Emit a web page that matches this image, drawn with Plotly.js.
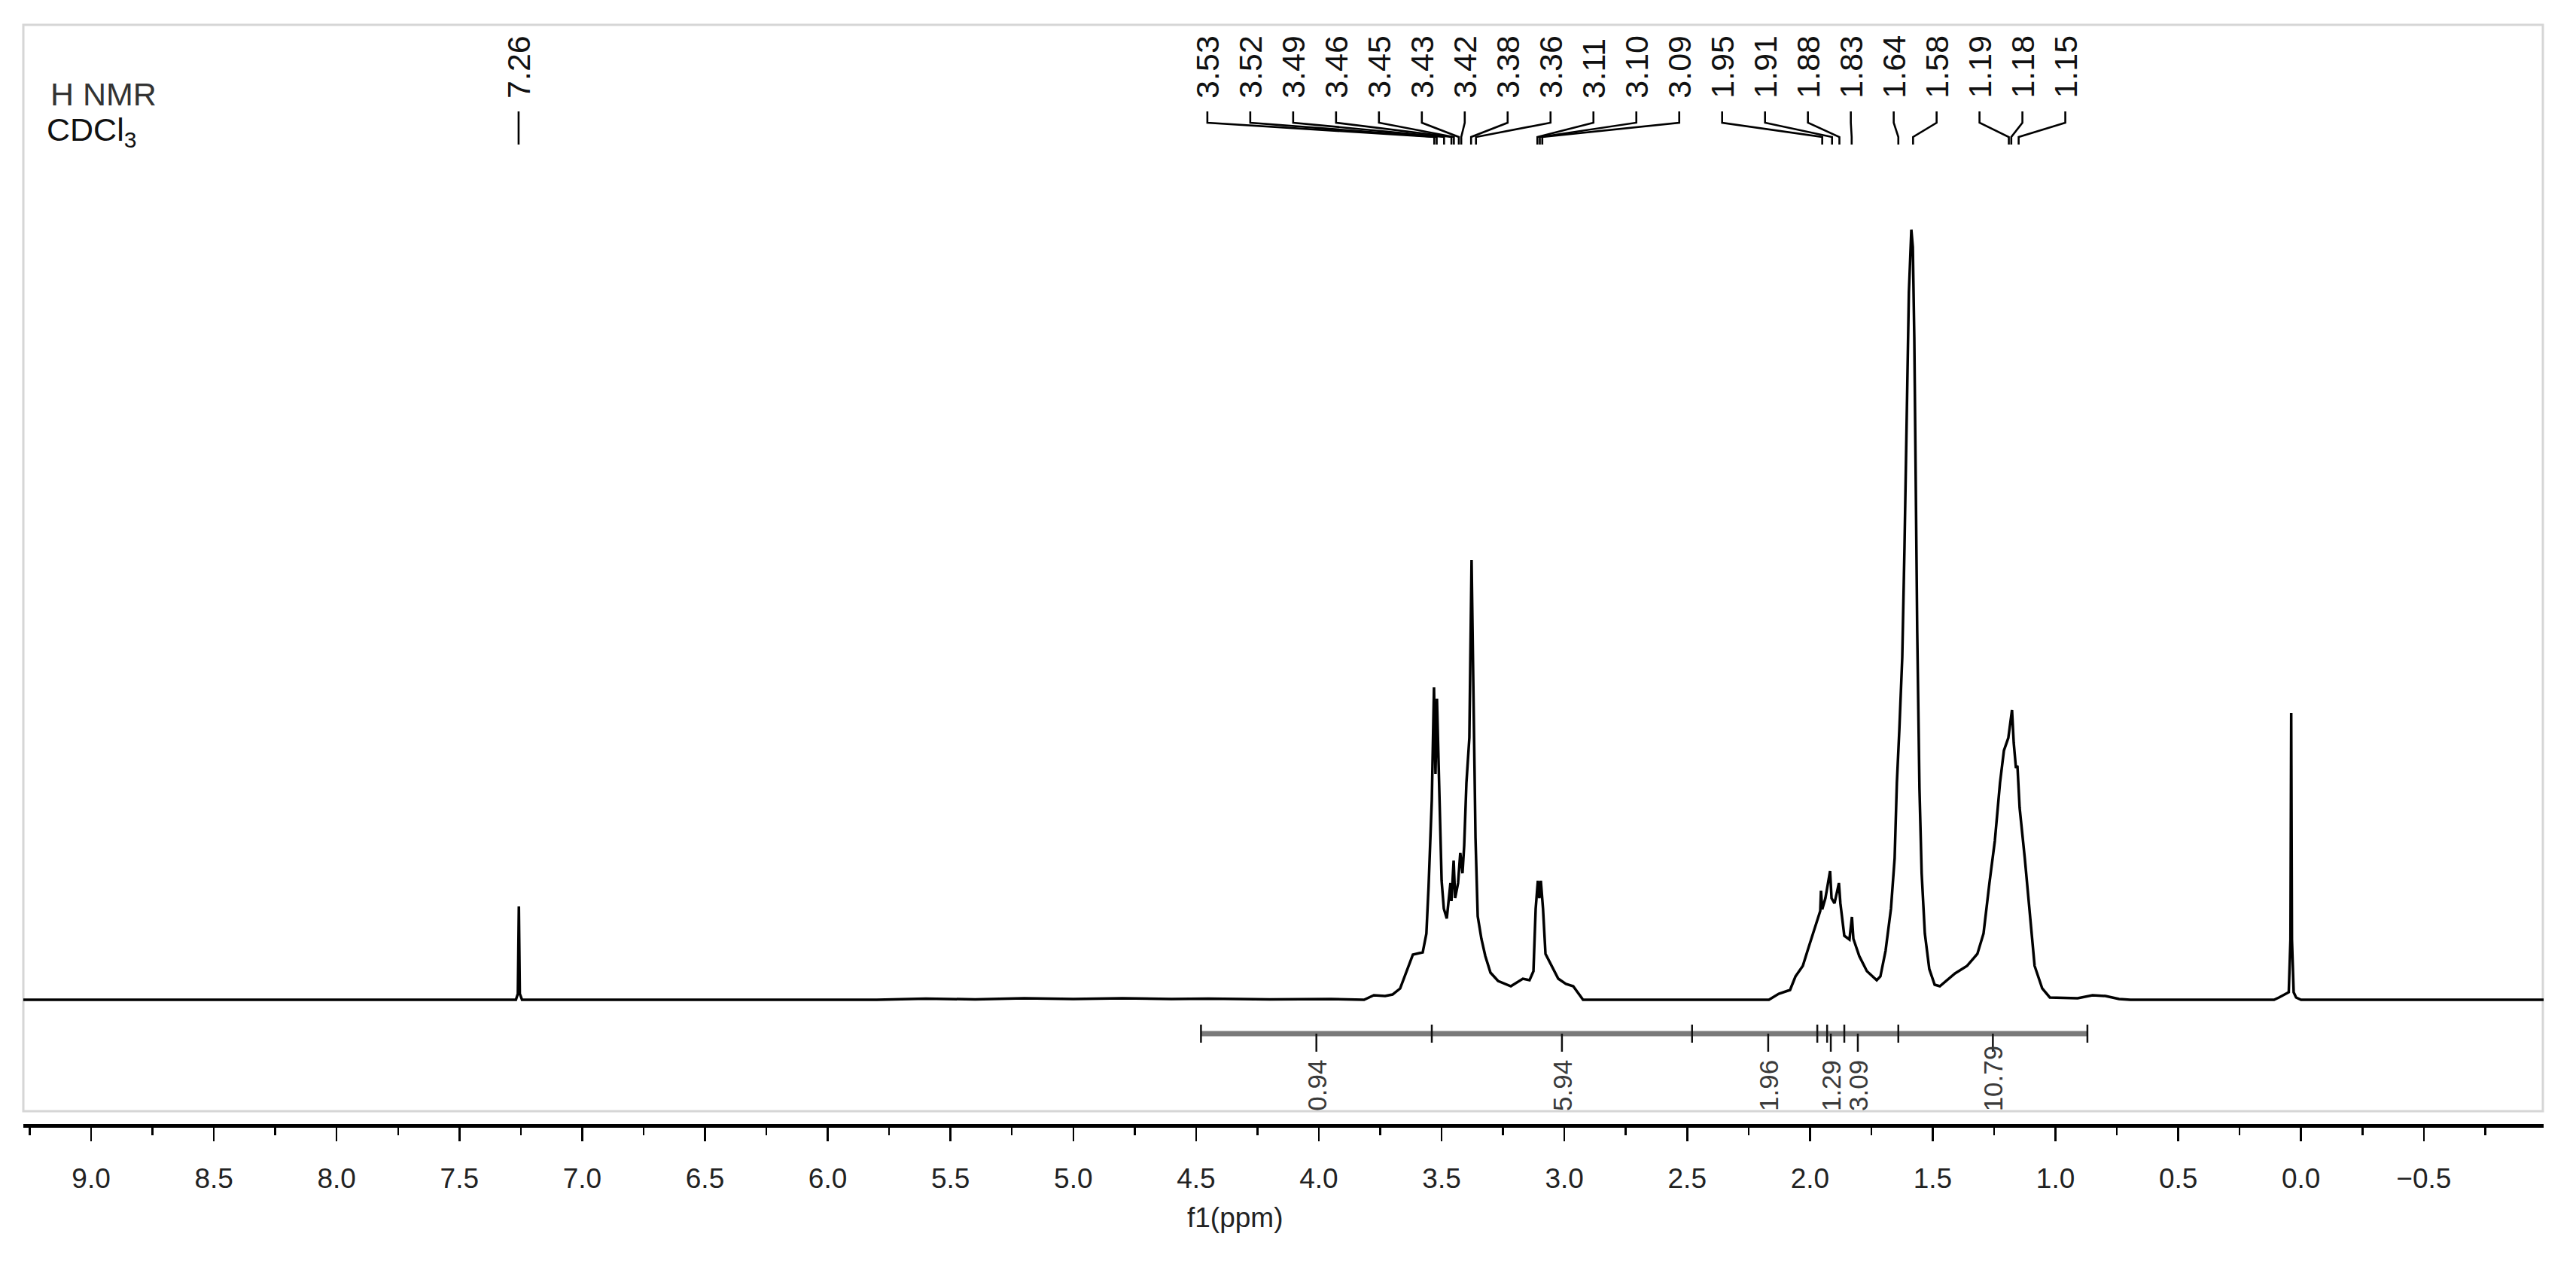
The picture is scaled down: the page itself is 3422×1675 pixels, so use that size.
<!DOCTYPE html>
<html>
<head>
<meta charset="utf-8">
<script src="https://cdn.plot.ly/plotly-3.0.1.min.js"></script>
<style>html,body{margin:0;padding:0;background:#fff;}#chart{width:3422px;height:1675px;}</style>
</head>
<body>
<div id="chart"></div>
<script>
// ---- spectrum (chemical shift in ppm, intensity in arbitrary units) ----
const ppm = [
  9.28, 7.30, 7.27, 7.262, 7.258, 7.254, 7.245,
  5.80, 5.60, 5.40, 5.20, 5.00, 4.80, 4.60, 4.45, 4.20, 3.95,
  3.816, 3.776, 3.730, 3.700, 3.669, 3.638, 3.617, 3.577, 3.562, 3.553,
  3.540, 3.531, 3.525, 3.519, 3.506, 3.500, 3.491, 3.479, 3.464, 3.460,
  3.451, 3.445, 3.433, 3.424, 3.415, 3.408, 3.399, 3.387, 3.378, 3.369,
  3.362, 3.353, 3.338, 3.322, 3.301, 3.270, 3.218, 3.169, 3.142, 3.126,
  3.117, 3.108, 3.102, 3.096, 3.087, 3.077, 3.056, 3.025, 2.994, 2.964,
  2.924,
  2.167, 2.127, 2.081, 2.059, 2.029, 2.007, 1.977, 1.958, 1.955, 1.950,
  1.937, 1.918, 1.912, 1.900, 1.882, 1.876, 1.860, 1.839, 1.829, 1.823,
  1.799, 1.768, 1.728, 1.713, 1.692, 1.670, 1.655, 1.646, 1.636, 1.624,
  1.615, 1.606, 1.597, 1.587, 1.581, 1.575, 1.569, 1.563, 1.554, 1.545,
  1.532, 1.514, 1.492, 1.471, 1.409, 1.360, 1.318, 1.293, 1.269, 1.247,
  1.226, 1.210, 1.192, 1.186, 1.177, 1.170, 1.161, 1.155, 1.146, 1.125,
  1.103, 1.085, 1.054, 1.023, 0.910, 0.849, 0.796, 0.741, 0.695,
  0.110, 0.090, 0.065, 0.050, 0.043, 0.040, 0.037, 0.030, 0.020, 0.000, -0.99
];
const intensity = [
  0, 0, 0, 0.8, 12.4, 0.8, 0,
  0, 0.15, 0.05, 0.2, 0.1, 0.2, 0.1, 0.15, 0.05, 0.1,
  0, 0.6, 0.5, 0.7, 1.5, 4.1, 6.0, 6.3, 8.8, 15.1,
  26.5, 41.5, 30, 40, 24.5, 15.8, 12.1, 10.8, 15.5, 13.1,
  18.5, 13.5, 15.5, 19.5, 16.8, 20.5, 28.8, 34.8, 58.4, 34.8,
  21.5, 11.1, 8.1, 5.8, 3.6, 2.5, 1.8, 2.8, 2.6, 3.8,
  12.1, 15.8, 13.5, 15.8, 12.1, 6.1, 4.8, 2.8, 2.1, 1.8,
  0,
  0, 0.8, 1.3, 3.1, 4.5, 6.8, 9.8, 11.8, 14.5, 12.0,
  13.5, 17.1, 13.5, 12.8, 15.5, 12.8, 8.5, 8.0, 11.0, 8.1,
  5.8, 3.8, 2.6, 3.1, 6.5, 12.1, 18.8, 28.8, 35.8, 45.5,
  60, 78, 94, 102.3, 100, 88, 68, 48.8, 28.1, 16.8,
  8.8, 4.1, 2.0, 1.8, 3.5, 4.5, 6.1, 8.8, 15.5, 21.1,
  28.8, 33.1, 34.8, 36.1, 38.5, 34.1, 30.8, 31.1, 25.5, 18.8,
  10.5, 4.5, 1.5, 0.3, 0.2, 0.6, 0.5, 0.1, 0,
  0, 0.3, 0.7, 1.0, 8, 38.1, 8, 1.0, 0.3, 0, 0
];

// ---- peak picking labels ----
const soloLabel = '7.26';
const soloShift = 7.259;
const peakLabels = ['3.53','3.52','3.49','3.46','3.45','3.43','3.42','3.38','3.36','3.11','3.10','3.09',
                    '1.95','1.91','1.88','1.83','1.64','1.58','1.19','1.18','1.15'];
const peakShifts = [3.53, 3.52, 3.49, 3.46, 3.45, 3.43, 3.42, 3.38, 3.36, 3.11, 3.10, 3.09,
                    1.95, 1.91, 1.88, 1.83, 1.64, 1.58, 1.19, 1.18, 1.15];

// ---- integrals ----
const intStart  = [4.48, 3.54, 2.48, 1.97, 1.97, 1.64];
const intEnd    = [3.54, 2.48, 1.86, 1.86, 1.64, 0.87];
const intValues = ['0.94', '5.94', '1.96', '1.29', '3.09', '10.79'];

// ---- axis ----
const xRange = [9.276, -0.988];
const yRange = [-16.5, 129.5];

const FONT = 'Liberation Sans, Arial, sans-serif';
const labelFirst = 4.454, labelStep = 0.1747;   // layout spacing of label columns

// connectors
const cx = [], cy = [];
cx.push(soloShift, soloShift, null); cy.push(118.0, 113.6, null);
peakShifts.forEach((p, i) => {
  const lx = labelFirst - i * labelStep;
  cx.push(lx, lx, p, p, null);
  cy.push(118.0, 116.5, 114.6, 113.6, null);
});

const annotations = [];
annotations.push({x: soloShift, y: 119.5, xref: 'x', yref: 'y', text: soloLabel, textangle: -90,
  showarrow: false, xanchor: 'center', yanchor: 'bottom', font: {family: FONT, size: 43, color: '#111'}});
peakLabels.forEach((t, i) => {
  annotations.push({x: labelFirst - i * labelStep, y: 119.5, xref: 'x', yref: 'y', text: t, textangle: -90,
    showarrow: false, xanchor: 'center', yanchor: 'bottom', font: {family: FONT, size: 43, color: '#111'}});
});

const shapes = [];
// frame
shapes.push({type: 'rect', xref: 'paper', yref: 'paper', x0: 0, x1: 0.9997, y0: 0.0116, y1: 1,
  line: {color: '#d6d6d6', width: 3}, fillcolor: 'rgba(0,0,0,0)', layer: 'below'});
// integral bar
const barL = Math.max(...intStart), barR = Math.min(...intEnd);
shapes.push({type: 'line', xref: 'x', yref: 'y', x0: barL, x1: barR, y0: -4.5, y1: -4.5,
  line: {color: '#7a7a7a', width: 7}});
const bounds = [...new Set(intStart.concat(intEnd))];
bounds.push(1.93);
bounds.forEach(b => shapes.push({type: 'line', xref: 'x', yref: 'y', x0: b, x1: b, y0: -3.3, y1: -5.7,
  line: {color: '#111', width: 2.5}}));
intValues.forEach((v, i) => {
  const m = (intStart[i] + intEnd[i]) / 2;
  shapes.push({type: 'line', xref: 'x', yref: 'y', x0: m, x1: m, y0: -4.5, y1: -6.9, line: {color: '#111', width: 2.5}});
  annotations.push({x: m, y: -15.0, xref: 'x', yref: 'y', text: v, textangle: -90, showarrow: false,
    xanchor: 'center', yanchor: 'bottom', font: {family: FONT, size: 35, color: '#3a3a3a'}});
});

annotations.push({x: 0.0102, y: 0.937, xref: 'paper', yref: 'paper', text: 'H NMR', showarrow: false,
  xanchor: 'left', yanchor: 'middle', font: {family: FONT, size: 43, color: '#333'}});
annotations.push({x: 0.0088, y: 0.903, xref: 'paper', yref: 'paper', text: 'CDCl<sub>3</sub>', showarrow: false,
  xanchor: 'left', yanchor: 'middle', font: {family: FONT, size: 43, color: '#111'}});
annotations.push({x: 4.343, y: -0.085, xref: 'x', yref: 'paper', text: 'f1(ppm)', showarrow: false,
  xanchor: 'center', yanchor: 'middle', font: {family: FONT, size: 37, color: '#222'}});

const traces = [
  {x: ppm, y: intensity, type: 'scatter', mode: 'lines', line: {color: '#000', width: 3.5}, hoverinfo: 'skip'},
  {x: cx, y: cy, type: 'scatter', mode: 'lines', line: {color: '#000', width: 2.6}, hoverinfo: 'skip', connectgaps: false}
];

const layout = {
  width: 3422, height: 1675,
  margin: {l: 31, r: 43, t: 33, b: 182},
  paper_bgcolor: '#fff', plot_bgcolor: '#fff',
  showlegend: false,
  xaxis: {
    range: xRange, autorange: false, showgrid: false, zeroline: false,
    showline: true, linecolor: '#000', linewidth: 5,
    ticks: 'outside', ticklen: 18, tickwidth: 2.5, tickcolor: '#000',
    dtick: 0.5, tick0: 0, tickformat: '.1f',
    minor: {dtick: 0.25, ticks: 'outside', ticklen: 10, tickwidth: 2.5, tickcolor: '#000'},
    ticklabelstandoff: 18,
    tickfont: {family: FONT, size: 37, color: '#222'}
  },
  yaxis: {range: yRange, autorange: false, visible: false, showgrid: false, zeroline: false},
  shapes: shapes,
  annotations: annotations
};

Plotly.newPlot('chart', traces, layout, {staticPlot: true, displayModeBar: false});
</script>
</body>
</html>
